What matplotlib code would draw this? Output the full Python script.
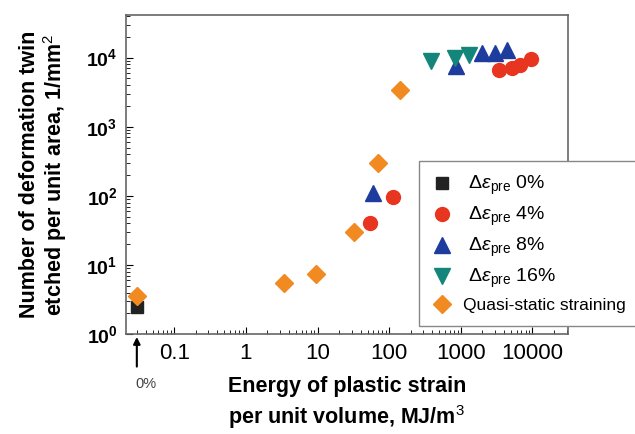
import matplotlib
matplotlib.use('Agg')
import matplotlib.pyplot as plt
import numpy as np

# ── data ──
x_pre0 = [0.03]
y_pre0 = [2.5]

x_pre4 = [54, 113, 3400, 5100, 6600, 9600]
y_pre4 = [40, 95, 6700, 7000, 7800, 9600]

x_pre8 = [60, 850, 1950, 2950, 4450]
y_pre8 = [110, 7500, 11500, 11500, 13000]

x_pre16 = [380, 820, 1290]
y_pre16 = [9000, 9700, 11000]

x_quasi = [0.03, 3.4, 9.6, 32, 70, 140]
y_quasi = [3.6, 5.5, 7.5, 30, 300, 3400]

xtick_vals = [0.1, 1, 10, 100, 1000, 10000]
xtick_labels = ['0.1', '1', '10', '100', '1000', '10000']
ytick_vals = [1, 10, 100, 1000, 10000]
ytick_labels = [r'$\mathbf{10^{0}}$', r'$\mathbf{10^{1}}$', r'$\mathbf{10^{2}}$',
                r'$\mathbf{10^{3}}$', r'$\mathbf{10^{4}}$']

labels = [r' $\Delta\varepsilon_{\rm pre}$ 0%', r' $\Delta\varepsilon_{\rm pre}$ 4%',
          r' $\Delta\varepsilon_{\rm pre}$ 8%', r' $\Delta\varepsilon_{\rm pre}$ 16%',
          'Quasi-static straining']

BLACK = '#222222'
RED = '#E8351F'
BLUE = '#1E3C9E'
TEAL = '#14857A'
ORANGE = '#F28A22'

plt.rcParams['font.family'] = ['Liberation Sans', 'DejaVu Sans']
plt.rcParams['mathtext.fontset'] = 'custom'
plt.rcParams['mathtext.rm'] = 'Liberation Sans'
plt.rcParams['mathtext.bf'] = 'Liberation Sans:bold'
plt.rcParams['mathtext.it'] = 'Liberation Sans:italic'

fig = plt.figure(figsize=(6.35, 4.34), dpi=100)
ax = fig.add_axes([0.198, 0.230, 0.696, 0.735])

ax.plot(x_pre0, y_pre0, 's', color=BLACK, ms=8, ls='none', label=labels[0], zorder=3)
ax.plot(x_pre4, y_pre4, 'o', color=RED, ms=10, ls='none', label=labels[1], zorder=3)
ax.plot(x_pre8, y_pre8, '^', color=BLUE, ms=11, ls='none', label=labels[2], zorder=3)
ax.plot(x_pre16, y_pre16, 'v', color=TEAL, ms=11, ls='none', label=labels[3], zorder=3)
ax.plot(x_quasi, y_quasi, 'D', color=ORANGE, ms=9, ls='none', label=labels[4], zorder=4)

ax.set_xscale('log')
ax.set_yscale('log')
ax.set_xlim(0.021, 31000)
ax.set_ylim(1, 41000)

ax.set_xticks(xtick_vals)
ax.set_xticklabels(xtick_labels, fontsize=16)
ax.set_yticks(ytick_vals)
ax.set_yticklabels(ytick_labels, fontsize=14)
ax.tick_params(which='both', direction='in', top=False, right=False)
ax.tick_params(which='major', length=5, pad=6)
ax.tick_params(which='minor', length=3)
for s in ax.spines.values():
    s.set_color('#666666')
    s.set_linewidth(1.2)

ax.set_xlabel('Energy of plastic strain\nper unit volume, MJ/m$^3$',
              fontsize=15.5, fontweight='bold', linespacing=1.3, labelpad=9)
ax.set_ylabel('Number of deformation twin\netched per unit area, 1/mm$^2$',
              fontsize=15.5, fontweight='bold', linespacing=1.05, labelpad=12)

# arrow marking the 0% point
ax.annotate('', xy=(0.03, 1.0), xytext=(0.03, 0.31),
            arrowprops=dict(arrowstyle='-|>', color='black', lw=1.5),
            annotation_clip=False)
ax.text(0.029, 0.19, '0%', fontsize=10.5, color='#444444', ha='left', va='center',
        clip_on=False)

leg = fig.legend(loc='upper left', bbox_to_anchor=(0.646, 0.65), fontsize=12.5,
                 frameon=True, fancybox=False, edgecolor='#888888', framealpha=1,
                 handletextpad=0.6, labelspacing=0.45, borderpad=0.75,
                 handlelength=1.2)
for t in leg.get_texts()[:4]:
    t.set_fontsize(14)

plt.savefig('out.png', dpi=100)
plt.close()
